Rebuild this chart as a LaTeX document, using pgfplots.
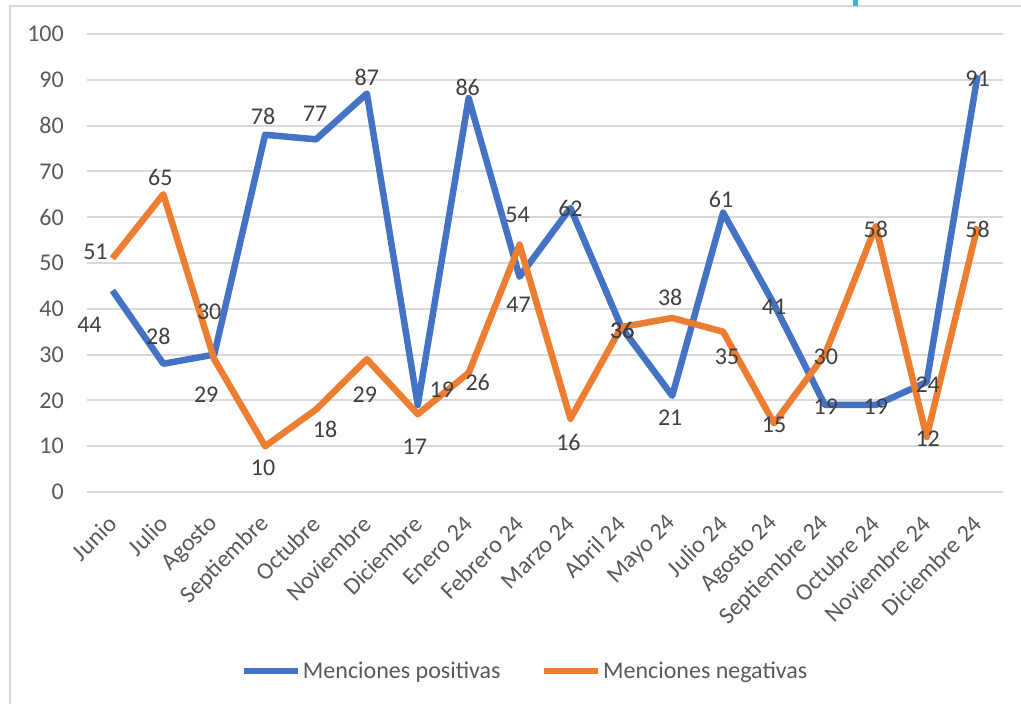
\documentclass[border=0pt]{standalone}
\usepackage{pgfplots}
\pgfplotsset{compat=1.18}
\usepackage{pgfplotstable}
\usepackage{fontspec}
\setmainfont{Carlito}
\definecolor{cblue}{HTML}{4472C4}
\definecolor{corange}{HTML}{ED7D31}
\definecolor{ctick}{HTML}{595959}
\definecolor{clab}{HTML}{404040}
\definecolor{cgrid}{HTML}{D9D9D9}
\definecolor{ccyan}{HTML}{3FB2D8}
\newcommand\cf{\fontsize{24}{28}\selectfont}

\pgfplotstableread{
x pos pdx pdy neg ndx ndy
0 44 -23 -34 51 -17 7
1 28 -5 27 65 -3 17
2 30 -5 43 29 -8 -36
3 78 -2 18 10 -2 -22
4 77 -1 26 18 9 -20
5 87 0 16 29 -2 -36
6 19 24 15 17 -3 -33
7 86 -1 11 26 9 -10
8 47 -1 -28 54 -2 30
9 62 0 0 16 -2 -24
10 36 1 -3 36 1 -3
11 21 -2 -22 38 -2 21
12 61 -2 13 35 4 -25
13 41 0 -3 15 0 -2
14 19 1 -2 30 1 -2
15 19 0 -2 58 0 -3
16 24 1 -3 12 1 -2
17 91 0 -3 58 0 -3
}\data

\begin{document}
\begin{tikzpicture}
\useasboundingbox (0,0) rectangle (1021pt,704pt);
\draw[cgrid, line width=2pt] (10pt,0pt) -- (10pt,698pt) -- (1021pt,698pt);
\fill[ccyan] (853pt,698pt) rectangle (858pt,704pt);
\begin{axis}[
  at={(87pt,212pt)}, anchor=south west,
  scale only axis, width=916pt, height=458pt,
  xmin=-0.5, xmax=17.5, ymin=0, ymax=100,
  axis line style={draw=none},
  tick style={draw=none},
  ymajorgrids,
  grid style={cgrid, line width=2pt},
  /pgf/number format/assume math mode=true,
  ytick={0,10,...,100},
  xtick={0,...,17},
  xticklabels={Junio, Julio, Agosto, Septiembre, Octubre, Noviembre, Diciembre, Enero 24, Febrero 24, Marzo 24, Abril 24, Mayo 24, Julio 24, Agosto 24, Septiembre 24, Octubre 24, Noviembre 24, Diciembre 24},
  yticklabel style={font=\cf, text=ctick, anchor=east, inner sep=0pt, xshift=-23pt},
  xticklabel style={font=\cf, text=ctick, xshift=0pt, yshift=-28pt, rotate=45, anchor=east, inner sep=0pt},
  legend columns=2,
  legend style={draw=none, fill=none, at={(0.478,-0.391)}, anchor=center, font=\cf, text=ctick,
    /tikz/every even column/.append style={column sep=38pt}},
  legend image code/.code={\draw[#1] (0pt,0pt) -- (54pt,0pt);},
  clip=false,
]
\addplot[cblue, line width=6.5pt, line join=round, mark=none] table[x=x, y=pos]{\data};
\addlegendentry{Menciones positivas}
\addplot[corange, line width=6.5pt, line join=round, mark=none] table[x=x, y=neg]{\data};
\addlegendentry{Menciones negativas}
\addplot[draw=none, mark=none, forget plot,
  visualization depends on={\thisrow{pdx} \as \ldx},
  visualization depends on={\thisrow{pdy} \as \ldy},
  nodes near coords,
  nodes near coords style={font=\cf, text=clab, anchor=center, inner sep=0pt, xshift=\ldx pt, yshift=\ldy pt}]
  table[x=x, y=pos]{\data};
\addplot[draw=none, mark=none, forget plot,
  visualization depends on={\thisrow{ndx} \as \ldx},
  visualization depends on={\thisrow{ndy} \as \ldy},
  nodes near coords,
  nodes near coords style={font=\cf, text=clab, anchor=center, inner sep=0pt, xshift=\ldx pt, yshift=\ldy pt}]
  table[x=x, y=neg]{\data};
\end{axis}
\end{tikzpicture}
\end{document}
